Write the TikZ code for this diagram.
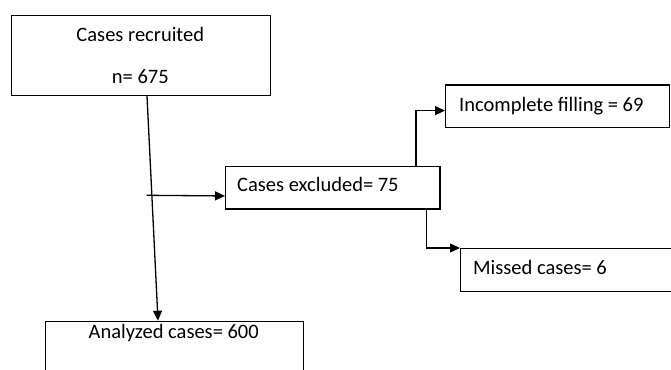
\documentclass[tikz,border=0pt]{standalone}
\usepackage{fontspec}
\setmainfont{Carlito}
\usetikzlibrary{arrows.meta}
\begin{document}
\begin{tikzpicture}[x=1pt,y=-1pt,
  box/.style={draw, line width=1.3pt, inner sep=0pt, anchor=north west},
  txt/.style={inner sep=0pt, font=\fontsize{20.5}{24}\selectfont},
  conn/.style={line width=1.3pt, -{Triangle[length=10pt,width=9pt]}}]
\useasboundingbox (0,0) rectangle (671,369);
\clip (0,0) rectangle (671,369);
\fill[white] (0,0) rectangle (671,369);
% boxes
\node[box, minimum width=259.3pt, minimum height=79.7pt] (rec) at (10.7,15) {};
\node[box, minimum width=214.3pt, minimum height=42.6pt] (excl) at (225,165.7) {};
\node[box, minimum width=224pt, minimum height=42.7pt] (inc) at (445,84.3) {};
\node[box, minimum width=260pt, minimum height=42.7pt] (miss) at (460,248) {};
\node[box, minimum width=258pt, minimum height=80pt] (anal) at (44.7,320.7) {};
% texts
\node[txt, anchor=base] (t1) at (140.3,41.7) {Cases recruited};
\node[txt, anchor=base] (t2) at (140.3,83.3) {n= 675};
\node[txt, anchor=base west] (t3) at (237,191) {Cases excluded= 75};
\node[txt, anchor=base west] (t4) at (459,111.7) {Incomplete filling = 69};
\node[txt, anchor=base west] (t5) at (473,274) {Missed cases= 6};
\node[txt, anchor=base] (t6) at (173.7,338.3) {Analyzed cases= 600};
% connectors
\coordinate (free) at (146.7,195.3);
\draw[conn] ([xshift=136.3pt]rec.south west) -- ([xshift=113.3pt]anal.north west);
\draw[conn] (free) -- ([yshift=-8.3pt]excl.west);
\draw[conn] ([xshift=191pt]excl.north west) |- ([yshift=-4.3pt]inc.west);
\draw[conn] ([xshift=201.5pt]excl.south west) |- (miss.north west);
\end{tikzpicture}
\end{document}
